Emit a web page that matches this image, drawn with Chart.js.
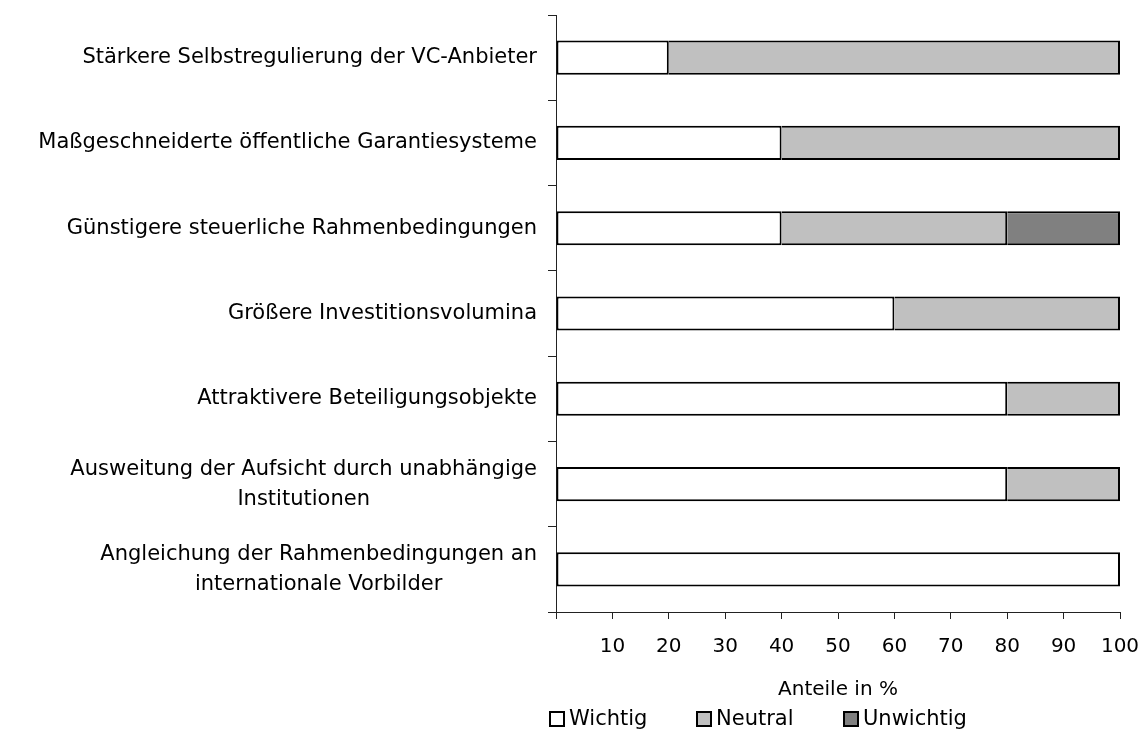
<!DOCTYPE html>
<html>
<head>
<meta charset="utf-8">
<script src="https://cdn.jsdelivr.net/npm/chart.js@4"></script>
<style>
  html, body { margin: 0; padding: 0; background: #fff; }
  #wrap { width: 1141px; height: 737px; }
</style>
</head>
<body>
<div id="wrap"><canvas id="chart"></canvas></div>
<script>
var categories = [
  'Stärkere Selbstregulierung der VC-Anbieter',
  'Maßgeschneiderte öffentliche Garantiesysteme',
  'Günstigere steuerliche Rahmenbedingungen',
  'Größere Investitionsvolumina',
  'Attraktivere Beteiligungsobjekte',
  ['Ausweitung der Aufsicht durch unabhängige', 'Institutionen'],
  ['Angleichung der Rahmenbedingungen an', 'internationale Vorbilder']
];
var wichtig = [20, 40, 40, 60, 80, 80, 100];
var neutral = [80, 60, 40, 40, 20, 20, 0];
var unwichtig = [0, 0, 20, 0, 0, 0, 0];
var xTicks = [10, 20, 30, 40, 50, 60, 70, 80, 90, 100];

var FONT = '"DejaVu Sans", sans-serif';
Chart.defaults.font.family = FONT;
Chart.defaults.font.size = 20;
Chart.defaults.color = '#000';

function bar(label, values, fill, skip) {
  return {
    label: label,
    data: values,
    backgroundColor: fill,
    borderColor: '#000',
    borderWidth: 2,
    borderSkipped: skip,
    barPercentage: 0.4,
    categoryPercentage: 1
  };
}

// category labels: right-aligned block, lines centred within the block
// legend: boxes + text under the axis title
var sideText = {
  id: 'sideText',
  afterDraw: function (chart) {
    var c = chart.ctx;
    var ys = chart.scales.y;
    var right = chart.chartArea.left - 19;
    c.save();
    c.fillStyle = '#000';
    c.textBaseline = 'middle';
    c.font = '21px ' + FONT;
    c.textAlign = 'center';
    categories.forEach(function (lab, i) {
      var lines = [].concat(lab);
      var w = 0;
      lines.forEach(function (l) { w = Math.max(w, c.measureText(l).width); });
      var cy = ys.getPixelForValue(i);
      lines.forEach(function (l, k) {
        c.fillText(l, right - w / 2, cy + (k - (lines.length - 1) / 2) * 30);
      });
    });

    c.textAlign = 'left';
    c.font = '21px ' + FONT;
    var ly = chart.height - 18;
    chart.data.datasets.forEach(function (ds, i) {
      var x = chart.chartArea.left - 6 + i * 147;
      c.fillStyle = ds.backgroundColor;
      c.fillRect(x, ly - 7, 14, 14);
      c.lineWidth = 2;
      c.strokeStyle = '#000';
      c.strokeRect(x, ly - 7, 14, 14);
      c.fillStyle = '#000';
      c.fillText(ds.label, x + 19, ly + 1);
    });
    c.restore();
  }
};

var ctx = document.getElementById('chart').getContext('2d');
new Chart(ctx, {
  type: 'bar',
  data: {
    labels: categories,
    datasets: [
      bar('Wichtig', wichtig, '#ffffff', false),
      bar('Neutral', neutral, '#c0c0c0', 'start'),
      bar('Unwichtig', unwichtig, '#808080', 'start')
    ]
  },
  options: {
    indexAxis: 'y',
    responsive: true,
    maintainAspectRatio: false,
    animation: false,
    layout: { padding: { top: 15, right: 21, bottom: 35, left: 0 } },
    plugins: {
      tooltip: { enabled: false },
      legend: { display: false }
    },
    scales: {
      x: {
        stacked: true,
        min: 0,
        max: 100,
        afterBuildTicks: function (scale) {
          scale.ticks = [{ value: 0 }].concat(xTicks.map(function (v) { return { value: v }; }));
        },
        afterFit: function (scale) {
          scale.paddingLeft = 0;
          scale.paddingRight = 0;
        },
        ticks: {
          padding: 16,
          maxRotation: 0,
          font: { size: 20 },
          callback: function (v) { return v === 0 ? '' : v; }
        },
        grid: { drawOnChartArea: false, tickLength: 7, color: '#222' },
        border: { color: '#222', width: 1 },
        title: {
          display: true,
          text: 'Anteile in %',
          font: { size: 20 },
          padding: { top: 3, bottom: 0 }
        }
      },
      y: {
        stacked: true,
        afterFit: function (scale) { scale.width = 556; },
        ticks: { display: false },
        grid: { drawOnChartArea: false, offset: true, tickLength: 8, color: '#222' },
        border: { color: '#222', width: 1 }
      }
    }
  },
  plugins: [sideText]
});
</script>
</body>
</html>
